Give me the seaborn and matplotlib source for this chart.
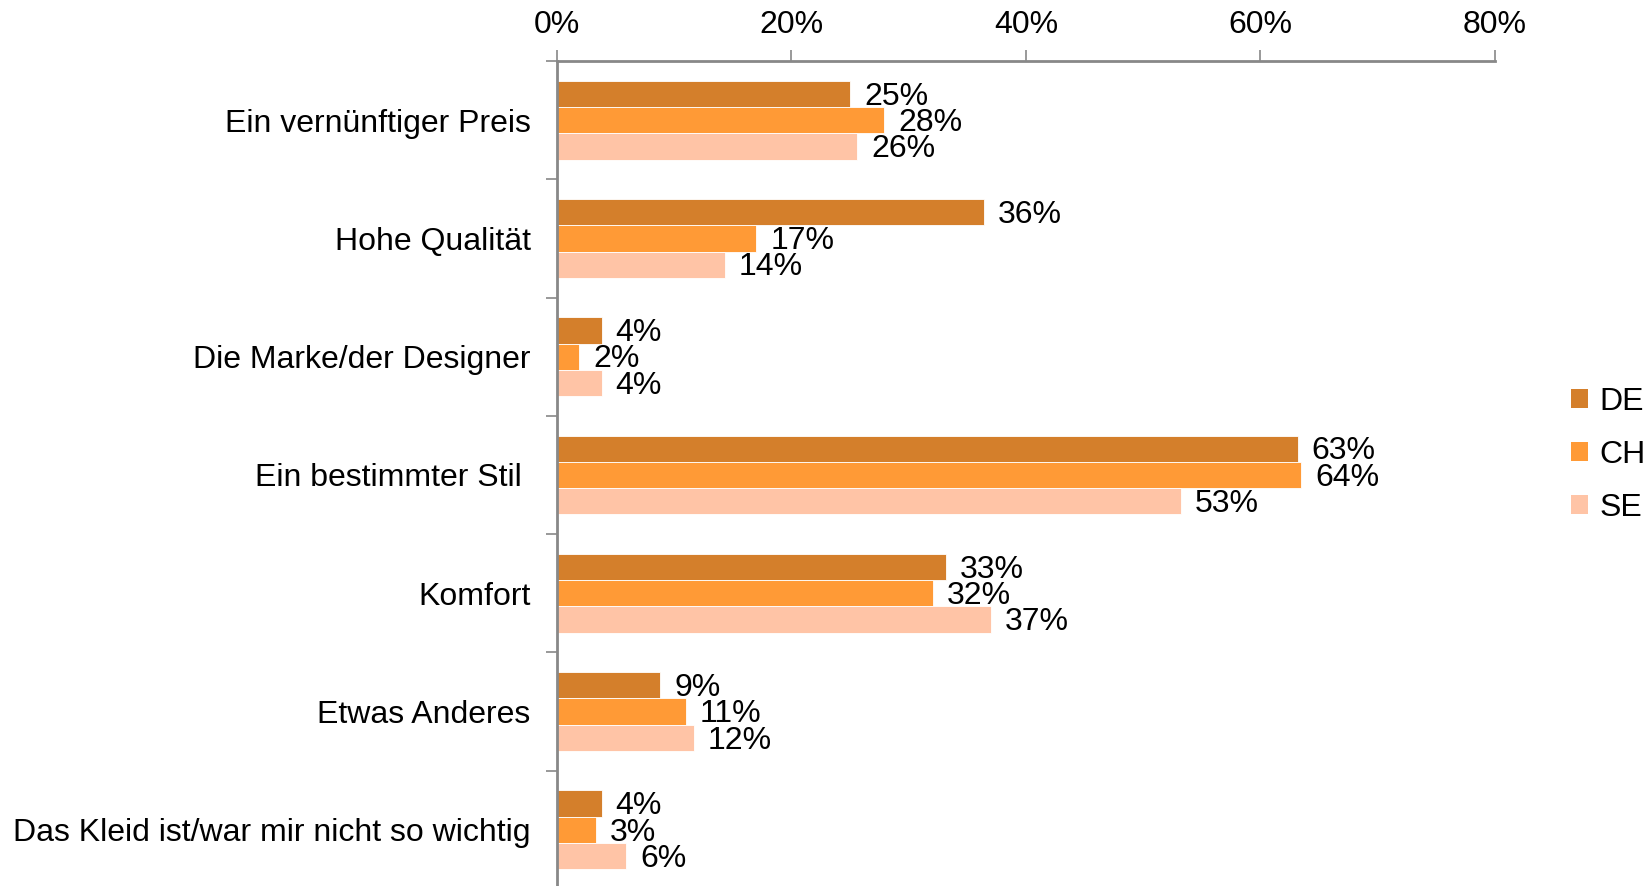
import seaborn as sns
import pandas as pd
import numpy as np
import matplotlib.pyplot as plt
from matplotlib.patches import Patch
from matplotlib.ticker import FixedLocator, PercentFormatter

sns.set_theme(style='white')
plt.rcParams['font.family'] = ['Liberation Sans', 'DejaVu Sans']
plt.rcParams['text.color'] = 'black'
plt.rcParams['xtick.labelcolor'] = 'black'
plt.rcParams['ytick.labelcolor'] = 'black'

categories = ['Ein vernünftiger Preis', 'Hohe Qualität', 'Die Marke/der Designer',
              'Ein bestimmter Stil ', 'Komfort', 'Etwas Anderes',
              'Das Kleid ist/war mir nicht so wichtig']
countries = ['DE', 'CH', 'SE']
de = [25.0, 36.4, 3.8, 63.2, 33.2, 8.8, 3.8]
ch = [27.9, 17.0, 1.9, 63.5, 32.1, 11.0, 3.3]
se = [25.6, 14.3, 3.8, 53.2, 37.0, 11.7, 5.9]
labels_de = ['25%', '36%', '4%', '63%', '33%', '9%', '4%']
labels_ch = ['28%', '17%', '2%', '64%', '32%', '11%', '3%']
labels_se = ['26%', '14%', '4%', '53%', '37%', '12%', '6%']
colors = ['#D47F2B', '#FF9A36', '#FFC4A6']

df = pd.DataFrame({
    'Kategorie': categories * 3,
    'Land': ['DE'] * 7 + ['CH'] * 7 + ['SE'] * 7,
    'Wert': de + ch + se,
})

fig = plt.figure(figsize=(16.48, 8.86), dpi=100)
ax = fig.add_axes([0.338, -0.0034, 0.569, 0.9346])

sns.barplot(data=df, x='Wert', y='Kategorie', hue='Land', hue_order=countries,
            palette=colors, saturation=1, orient='h', width=0.667, ax=ax,
            legend=False, edgecolor='white', linewidth=0.6)

# value labels right of each bar
for container, labs in zip(ax.containers, [labels_de, labels_ch, labels_se]):
    for bar, lab in zip(container, labs):
        ax.annotate(lab, (bar.get_width(), bar.get_y() + bar.get_height() / 2),
                    xytext=(10, -2), textcoords='offset points',
                    va='center', ha='left', fontsize=23, color='black')

ax.set_xlim(0, 80)
ax.set_ylim(6.5, -0.5)
ax.xaxis.tick_top()
ax.set_xticks([0, 20, 40, 60, 80])
ax.xaxis.set_major_formatter(PercentFormatter(decimals=0))
ax.tick_params(axis='x', which='major', direction='out', length=8, width=1.2,
               color='#888888', labelsize=23, pad=7, top=True, bottom=False)
ax.tick_params(axis='y', which='major', length=0, labelsize=23, pad=19)
ax.yaxis.set_minor_locator(FixedLocator(np.arange(-0.5, 7, 1)))
ax.tick_params(axis='y', which='minor', direction='out', length=8, width=1.2,
               color='#888888', left=True)
ax.set_xlabel('')
ax.set_ylabel('')

for side in ['right', 'bottom']:
    ax.spines[side].set_visible(False)
for side in ['top', 'left']:
    ax.spines[side].set_color('#888888')
    ax.spines[side].set_linewidth(2)

handles = [Patch(facecolor=c, edgecolor='none', label=l) for c, l in zip(colors, countries)]
fig.legend(handles=handles, loc='center left', bbox_to_anchor=(0.953, 0.487),
           frameon=False, fontsize=23, handlelength=0.55, handleheight=0.55,
           handletextpad=0.35, labelspacing=0.72, borderpad=0, borderaxespad=0)

plt.savefig('out.png', dpi=100)
